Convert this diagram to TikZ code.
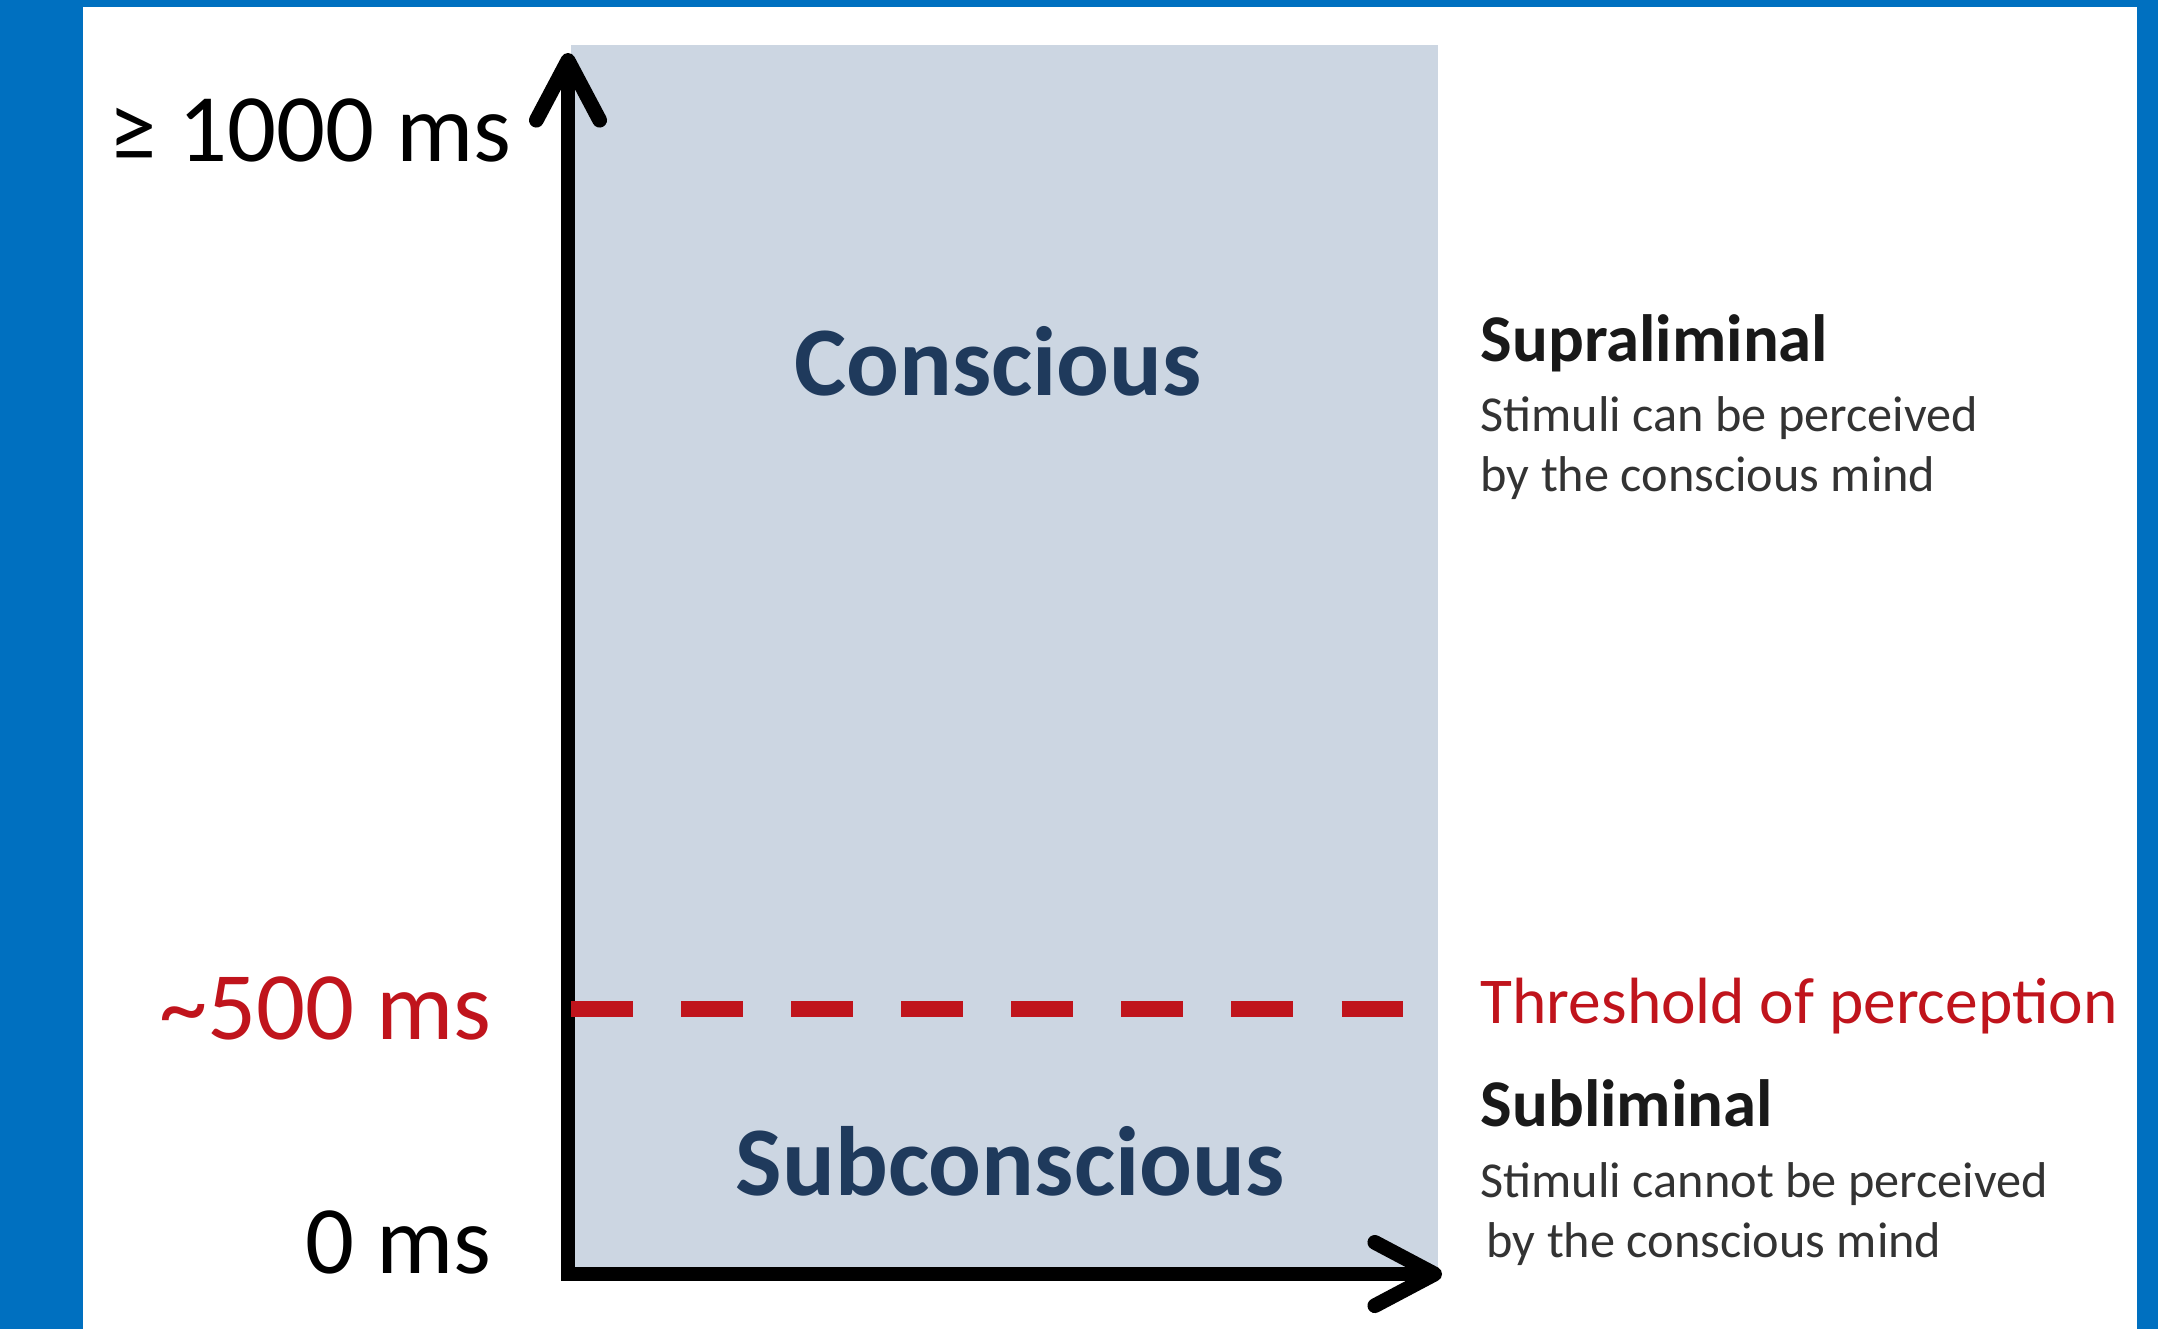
\documentclass[tikz,border=0pt]{standalone}
\usepackage{fontspec}
\setmainfont{Carlito}
\usetikzlibrary{arrows.meta}
\definecolor{slideblue}{HTML}{0070C0}
\definecolor{regionfill}{HTML}{CCD6E2}
\definecolor{threshred}{HTML}{C0141C}
\definecolor{navytext}{HTML}{1F3A5C}
\definecolor{notegray}{HTML}{333333}
\begin{document}
\begin{tikzpicture}[x=0.01cm, y=-0.01cm,
    axislabel/.style={anchor=base east, inner sep=0pt, font=\fontsize{27.5}{31}\selectfont},
    regionlabel/.style={anchor=base, inner sep=0pt, text=navytext, font=\bfseries\fontsize{28}{32}\selectfont},
    sidehead/.style={anchor=base west, inner sep=0pt, text=black!90, font=\bfseries\fontsize{19}{22}\selectfont},
    sidetext/.style={anchor=base west, inner sep=0pt, text=notegray, font=\fontsize{14.3}{17}\selectfont}]
\useasboundingbox (0,0) rectangle (2158,1329);
% slide frame
\fill[white] (0,0) rectangle (2158,1329);
\fill[slideblue] (0,0) rectangle (83,1329);
\fill[slideblue] (0,0) rectangle (2158,7);
\fill[slideblue] (2137,0) rectangle (2158,1329);
% shaded area
\fill[regionfill] (571,45) rectangle (1438,1280);
% axes
\coordinate (origin) at (568,1274);
\coordinate (ytop) at (568,53);
\coordinate (xend) at (1442,1274);
\draw[line width=4.2pt, line join=miter,
  {Straight Barb[length=17pt,width=18pt,round]}-{Straight Barb[length=17pt,width=18pt,round]}]
  (ytop) -- (origin) -- (xend);
% threshold
\coordinate (tleft) at (571,1009);
\coordinate (tright) at (1407,1009);
\draw[threshred, line width=4.5pt, dash pattern=on 17.6pt off 13.7pt] (tleft) -- (tright);
% time labels
\node[axislabel] (tmax) at (512,161) {≥ 1000 ms};
\node[axislabel, text=threshred] (tmid) at (492,1039) {\textasciitilde500 ms};
\node[axislabel] (tzero) at (492,1273) {0 ms};
% regions
\node[regionlabel] (conscious) at (998,395) {Conscious};
\node[regionlabel] (subconscious) at (1010,1195) {Subconscious};
% notes on the right
\node[sidehead] (supra) at (1480,361) {Supraliminal};
\node[sidetext] (supra1) at (1480,431) {Stimuli can be perceived};
\node[sidetext] (supra2) at (1480,491) {by the conscious mind};
\node[anchor=base west, inner sep=0pt, text=threshred, font=\fontsize{18.6}{22}\selectfont] (thresh) at (1480,1023) {Threshold of perception};
\node[sidehead] (sub) at (1480,1126) {Subliminal};
\node[sidetext] (sub1) at (1480,1197) {Stimuli cannot be perceived};
\node[sidetext] (sub2) at (1486,1257) {by the conscious mind};
\end{tikzpicture}
\end{document}
